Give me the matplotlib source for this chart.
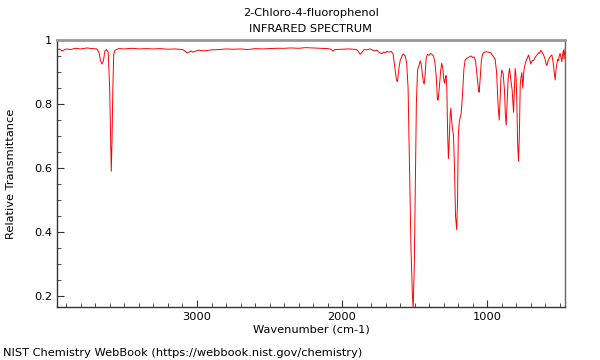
import matplotlib
matplotlib.use("Agg")
import matplotlib.pyplot as plt
from matplotlib.ticker import MultipleLocator, FormatStrFormatter

TITLE_LINES = ["2-Chloro-4-fluorophenol", "INFRARED SPECTRUM"]
X_LABEL = "Wavenumber (cm-1)"
Y_LABEL = "Relative Transmittance"
FOOTER = "NIST Chemistry WebBook (https://webbook.nist.gov/chemistry)"

# wavenumber (cm-1)
wavenumber = [
  3965, 3950, 3930, 3900, 3870, 3840, 3800, 3760, 3720, 3690,
  3675, 3665, 3655, 3645, 3635, 3625, 3612, 3602, 3596, 3591,
  3586, 3580, 3574, 3565, 3540, 3500, 3450, 3400, 3350, 3300,
  3250, 3200, 3150, 3100, 3085, 3069, 3055, 3040, 3030, 3010,
  2990, 2950, 2900, 2850, 2800, 2750, 2700, 2650, 2600, 2550,
  2500, 2450, 2400, 2350, 2300, 2250, 2200, 2150, 2100, 2075,
  2062, 2050, 2000, 1950, 1900, 1885, 1875, 1865, 1850, 1830,
  1807, 1780, 1760, 1740, 1725, 1715, 1700, 1690, 1675, 1660,
  1648, 1635, 1625, 1618, 1610, 1600, 1585, 1577, 1565, 1555,
  1545, 1535, 1525, 1515, 1510, 1502, 1495, 1488, 1480, 1470,
  1462, 1455, 1448, 1440, 1434, 1428, 1420, 1411, 1400, 1390,
  1380, 1370, 1360, 1350, 1343, 1338, 1330, 1320, 1313, 1305,
  1300, 1294, 1288, 1283, 1278, 1272, 1267, 1262, 1255, 1250,
  1245, 1238, 1232, 1225, 1218, 1210, 1204, 1199, 1192, 1185,
  1179, 1170, 1160, 1152, 1140, 1130, 1120, 1110, 1100, 1090,
  1080, 1070, 1060, 1055, 1048, 1040, 1032, 1020, 1005, 990,
  975, 960, 945, 935, 925, 917, 910, 905, 899, 890,
  880, 875, 869, 863, 855, 846, 840, 834, 828, 822,
  818, 812, 807, 800, 795, 790, 784, 778, 772, 768,
  761, 754, 748, 745, 738, 731, 722, 715, 708, 699,
  690, 680, 670, 657, 645, 638, 630, 620, 611, 600,
  594, 588, 580, 570, 562, 554, 545, 538, 531, 525,
  519, 513, 508, 503, 497, 491, 485, 480, 474, 470,
  466, 462,
]

transmittance = [
  0.968, 0.972, 0.966, 0.972, 0.970, 0.974, 0.972, 0.975, 0.973, 0.972,
  0.960, 0.935, 0.925, 0.935, 0.965, 0.970, 0.962, 0.850, 0.700, 0.590,
  0.680, 0.850, 0.955, 0.968, 0.973, 0.972, 0.974, 0.972, 0.973, 0.972,
  0.973, 0.971, 0.972, 0.970, 0.966, 0.960, 0.962, 0.966, 0.962, 0.965,
  0.968, 0.966, 0.969, 0.970, 0.972, 0.971, 0.972, 0.970, 0.973, 0.972,
  0.973, 0.974, 0.974, 0.975, 0.974, 0.976, 0.975, 0.974, 0.973, 0.971,
  0.965, 0.970, 0.971, 0.972, 0.970, 0.962, 0.955, 0.960, 0.970, 0.969,
  0.972, 0.966, 0.968, 0.960, 0.957, 0.962, 0.960, 0.965, 0.962, 0.964,
  0.955, 0.910, 0.875, 0.870, 0.905, 0.935, 0.952, 0.956, 0.950, 0.930,
  0.850, 0.600, 0.350, 0.200, 0.160, 0.300, 0.550, 0.800, 0.905, 0.920,
  0.935, 0.925, 0.900, 0.870, 0.862, 0.890, 0.945, 0.955, 0.952, 0.958,
  0.955, 0.950, 0.930, 0.880, 0.815, 0.812, 0.850, 0.905, 0.927, 0.910,
  0.880, 0.865, 0.880, 0.889, 0.850, 0.700, 0.630, 0.680, 0.765, 0.787,
  0.750, 0.720, 0.703, 0.600, 0.450, 0.408, 0.500, 0.700, 0.745, 0.760,
  0.770, 0.830, 0.910, 0.937, 0.943, 0.945, 0.948, 0.950, 0.945, 0.947,
  0.935, 0.890, 0.845, 0.837, 0.880, 0.935, 0.955, 0.962, 0.963, 0.962,
  0.960, 0.950, 0.940, 0.900, 0.800, 0.750, 0.820, 0.880, 0.906, 0.895,
  0.840, 0.770, 0.734, 0.800, 0.880, 0.911, 0.890, 0.865, 0.845, 0.800,
  0.774, 0.850, 0.911, 0.880, 0.800, 0.680, 0.622, 0.700, 0.860, 0.878,
  0.898, 0.850, 0.895, 0.910, 0.925, 0.935, 0.945, 0.953, 0.942, 0.925,
  0.935, 0.936, 0.945, 0.953, 0.960, 0.958, 0.968, 0.960, 0.953, 0.940,
  0.925, 0.920, 0.935, 0.945, 0.950, 0.953, 0.930, 0.900, 0.875, 0.910,
  0.927, 0.940, 0.935, 0.950, 0.958, 0.945, 0.932, 0.955, 0.968, 0.940,
  0.960, 0.975,
]

x_ticks = [3000, 2000, 1000]
y_ticks = [0.2, 0.4, 0.6, 0.8, 1.0]


def main():
  fig = plt.figure(figsize=(6, 3.6), dpi=100)
  ax = fig.add_axes([0.095, 0.147, 0.847, 0.742])

  ax.plot(wavenumber, transmittance, color="#ff0000", linewidth=0.7)

  ax.set_xlim(3965, 462)
  ax.set_ylim(0.166, 1.0)

  ax.set_xticks(x_ticks)
  ax.xaxis.set_minor_locator(MultipleLocator(100))
  ax.set_yticks(y_ticks)
  ax.yaxis.set_minor_locator(MultipleLocator(0.05))
  ax.yaxis.set_major_formatter(FormatStrFormatter("%g"))

  ax.tick_params(which="both", direction="in", top=False, right=False,
                 labelsize=8.2, color="#333333")
  ax.tick_params(which="major", length=5)
  ax.tick_params(which="minor", length=3)

  for side in ("left", "bottom"):
    ax.spines[side].set_color("#333333")
    ax.spines[side].set_linewidth(1.0)
  ax.spines["top"].set_color("#999999")
  ax.spines["top"].set_linewidth(2.0)
  ax.spines["right"].set_color("#666666")
  ax.spines["right"].set_linewidth(1.0)

  # two title lines placed separately to match the reference spacing
  fig.text(0.518, 0.964, TITLE_LINES[0], fontsize=8.2, ha="center", va="center")
  fig.text(0.518, 0.919, TITLE_LINES[1], fontsize=8.2, ha="center", va="center")
  ax.set_xlabel(X_LABEL, fontsize=8.2, labelpad=1.5)
  ax.set_ylabel(Y_LABEL, fontsize=8.2, labelpad=13)

  fig.text(0.005, 0.005, FOOTER, fontsize=8.2, ha="left", va="bottom")

  fig.savefig("out.png", dpi=100)


if __name__ == "__main__":
  main()
